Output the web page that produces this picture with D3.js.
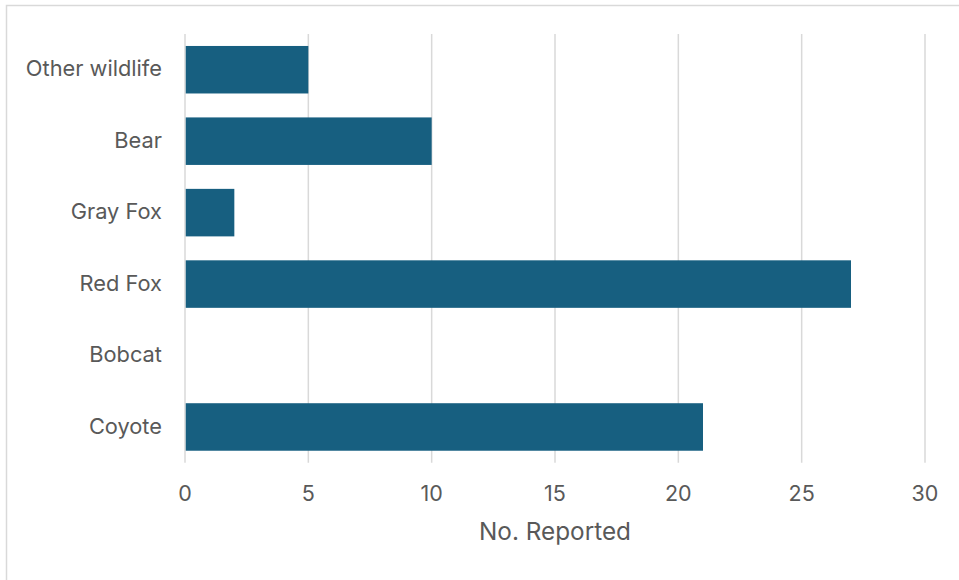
<!DOCTYPE html>
<html><head><meta charset="utf-8">
<script src="https://cdn.jsdelivr.net/npm/d3@7"></script>
<style>body{margin:0;background:#fff;}svg{display:block;}</style>
</head><body>
<script>
const categories = ["Other wildlife","Bear","Gray Fox","Red Fox","Bobcat","Coyote"];
const values = [5,10,2,27,0,21];
const xTicks = [0,5,10,15,20,25,30];
const xTitle = "No. Reported";

(function(){
const W=959,H=580;
const font="Inter, 'Open Sans', sans-serif";
const svg=d3.select("body").append("svg").attr("width",W).attr("height",H);
svg.append("rect").attr("x",6.5).attr("y",5.5).attr("width",W).attr("height",H)
  .attr("fill","#fff").attr("stroke","#d9d9d9").attr("stroke-width",1.5);

const pLeft=185,pRight=925,pTop=34,pBottom=462.7;
const x=d3.scaleLinear().domain([0,30]).range([pLeft,pRight]);
const y=d3.scaleBand().domain(categories).range([pTop,pBottom]).paddingInner(0.335).paddingOuter(0.1675);

svg.append("g").selectAll("line").data(xTicks).join("line")
  .attr("x1",d=>x(d)).attr("x2",d=>x(d)).attr("y1",pTop).attr("y2",pBottom)
  .attr("stroke","#d9d9d9").attr("stroke-width",1.5);

svg.append("g").selectAll("rect").data(values).join("rect")
  .attr("x",x(0)+0.75).attr("y",(d,i)=>y(categories[i]))
  .attr("width",d=>Math.max(0,x(d)-x(0)-0.75)).attr("height",y.bandwidth())
  .attr("fill","#175f80");

svg.append("g").selectAll("text").data(categories).join("text")
  .attr("x",162).attr("y",d=>y(d)+y.bandwidth()/2-1).attr("dy","0.35em")
  .attr("text-anchor","end").attr("font-family",font).attr("font-size",21.8)
  .attr("fill","#595959").text(d=>d);

svg.append("g").selectAll("text").data(xTicks).join("text")
  .attr("x",d=>x(d)).attr("y",493).attr("dy","0.35em")
  .attr("text-anchor","middle").attr("font-family",font).attr("font-size",21.5)
  .attr("fill","#595959").text(d=>d);

svg.append("text").attr("x",555).attr("y",531).attr("dy","0.35em")
  .attr("text-anchor","middle").attr("font-family",font).attr("font-size",24.3)
  .attr("fill","#595959").text(xTitle);
})();
</script>
</body></html>
